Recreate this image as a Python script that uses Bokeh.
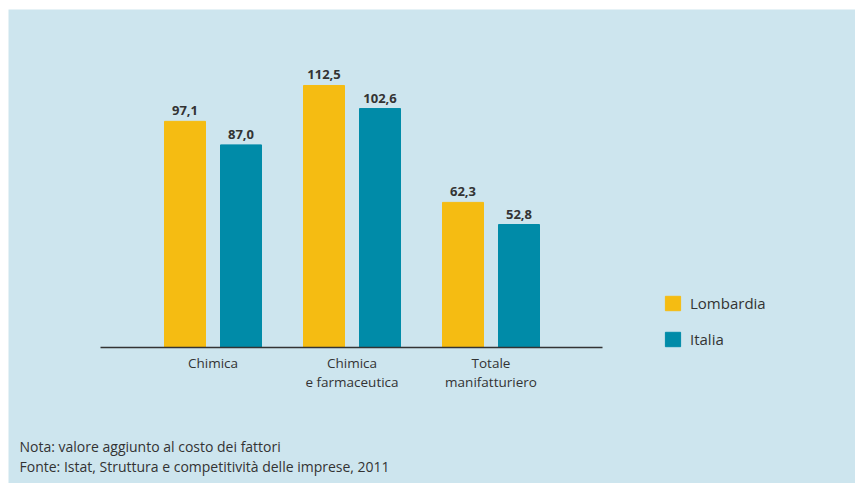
from bokeh.plotting import figure
from bokeh.models import ColumnDataSource, Legend, LegendItem, Label, Range1d
from bokeh.core.properties import value
from bokeh.embed import file_html
from bokeh.resources import INLINE

categories = ["Chimica", "Chimica\ne farmaceutica", "Totale\nmanifatturiero"]
series_names = ["Lombardia", "Italia"]
lombardia = [97.1, 112.5, 62.3]
italia = [87.0, 102.6, 52.8]
notes = ["Nota: valore aggiunto al costo dei fattori",
         "Fonte: Istat, Struttura e competitività delle imprese, 2011"]

BG = "#cde5ee"
C_LOM = "#f5bc12"
C_ITA = "#008ba8"
TXT = "#333333"
FONT = "Open Sans"

W, H = 847, 474
PX_X = 139.0      # pixels per category step
PX_Y = 2.329      # pixels per unit
X0_PX = 204.5     # first category centre from left
Y0_PX = 136.0     # zero line from bottom

idx = list(range(len(categories)))
off = 28 / PX_X
bw = 41 / PX_X

def fmt(v):
    return f"{v:.1f}".replace(".", ",")

src_l = ColumnDataSource(dict(x=[i - off for i in idx], y=lombardia, t=[fmt(v) for v in lombardia]))
src_i = ColumnDataSource(dict(x=[i + off for i in idx], y=italia, t=[fmt(v) for v in italia]))
src_c = ColumnDataSource(dict(x=idx, y=[0] * len(idx), t=categories))

xr = Range1d(-X0_PX / PX_X, (W - X0_PX) / PX_X)
yr = Range1d(-Y0_PX / PX_Y, (H - Y0_PX) / PX_Y)

p = figure(width=W, height=H, output_backend="svg", toolbar_location=None,
           x_range=xr, y_range=yr, x_axis_location=None, y_axis_location=None,
           min_border=0, background_fill_color=BG, border_fill_color=BG,
           outline_line_color=None, margin=(9, 0, 0, 8))
p.grid.visible = False

r1 = p.vbar(x="x", top="y", width=bw, source=src_l, color=C_LOM)
r2 = p.vbar(x="x", top="y", width=bw, source=src_i, color=C_ITA)

# baseline (category axis line)
p.segment(x0=[(100 - 8 - X0_PX) / PX_X], x1=[(602 - 8 - X0_PX) / PX_X], y0=[0], y1=[0],
          line_color=TXT, line_width=1.5)

for s in (src_l, src_i):
    p.text(x="x", y="y", text="t", source=s, y_offset=-6, text_align="center",
           text_baseline="bottom", text_font=value(FONT), text_font_style="bold",
           text_font_size="13px", text_color=TXT)

p.text(x="x", y="y", text="t", source=src_c, y_offset=6, text_align="center",
       text_baseline="top", text_font=value(FONT), text_font_size="13.5px",
       text_color=TXT, text_line_height=1.07)

legend = Legend(items=[LegendItem(label=series_names[0], renderers=[r1]),
                       LegendItem(label=series_names[1], renderers=[r2])],
                location=(655, 134), padding=0, margin=0, spacing=16,
                glyph_width=19, glyph_height=18, label_height=18, label_standoff=8,
                label_text_font=FONT, label_text_font_size="15px", label_text_color=TXT,
                border_line_color=None, background_fill_alpha=0)
p.add_layout(legend, "center")

for t, yy in zip(notes, [37, 17]):
    p.add_layout(Label(x=11, y=yy, x_units="screen", y_units="screen", text=t,
                       text_font=FONT, text_font_size="14px", text_color=TXT,
                       text_baseline="middle"))

open("out.html", "w").write(file_html(p, INLINE))
